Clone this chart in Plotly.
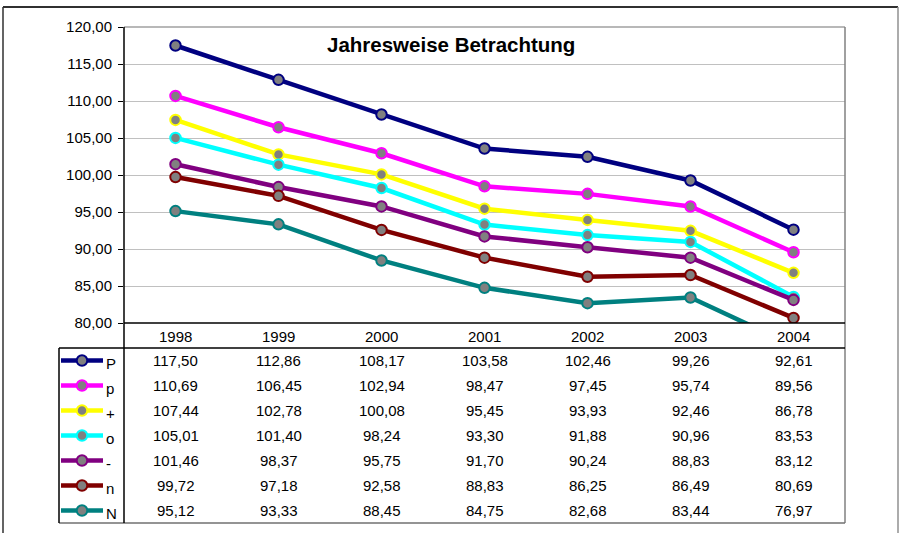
import plotly.graph_objects as go

years = ["1998", "1999", "2000", "2001", "2002", "2003", "2004"]
series_names = ["P", "p", "+", "o", "-", "n", "N"]
series_colors = ["#000080", "#FF00FF", "#FFFF00", "#00FFFF", "#800080", "#800000", "#008080"]
val_P = [117.50, 112.86, 108.17, 103.58, 102.46, 99.26, 92.61]
val_p = [110.69, 106.45, 102.94, 98.47, 97.45, 95.74, 89.56]
val_plus = [107.44, 102.78, 100.08, 95.45, 93.93, 92.46, 86.78]
val_o = [105.01, 101.40, 98.24, 93.30, 91.88, 90.96, 83.53]
val_minus = [101.46, 98.37, 95.75, 91.70, 90.24, 88.83, 83.12]
val_n = [99.72, 97.18, 92.58, 88.83, 86.25, 86.49, 80.69]
val_N = [95.12, 93.33, 88.45, 84.75, 82.68, 83.44, 76.97]
series_values = [val_P, val_p, val_plus, val_o, val_minus, val_n, val_N]
y_ticks = [80, 85, 90, 95, 100, 105, 110, 115, 120]
title_text = "Jahresweise Betrachtung"

W, H = 899, 533
def px(x):
    return x / W
def py(y):
    return 1 - y / H

FONT = "Liberation Sans, Arial, sans-serif"
FS = 15

fig = go.Figure()

# main chart lines
for name, col, vals in zip(series_names, series_colors, series_values):
    fig.add_trace(go.Scatter(
        x=list(range(len(years))), y=vals, mode="lines+markers", name=name,
        line=dict(color=col, width=4.5),
        marker=dict(size=10.5, color="#808080", line=dict(color=col, width=2)),
        xaxis="x", yaxis="y", showlegend=False, hoverinfo="skip"))

# legend samples in the table
for i, (name, col) in enumerate(zip(series_names, series_colors)):
    fig.add_trace(go.Scatter(x=[0, 1], y=[i + 0.5, i + 0.5], mode="lines",
                             line=dict(color=col, width=4.5), xaxis="x2", yaxis="y2",
                             showlegend=False, hoverinfo="skip"))
    fig.add_trace(go.Scatter(x=[0.5], y=[i + 0.5], mode="markers",
                             marker=dict(size=10.5, color="#808080", line=dict(color=col, width=2)),
                             xaxis="x2", yaxis="y2", showlegend=False, hoverinfo="skip"))

annotations = []
annotations.append(dict(text="<b>" + title_text + "</b>", x=px(451), y=py(44), xref="paper", yref="paper",
                        showarrow=False, font=dict(family=FONT, size=20.5, color="#000000"),
                        xanchor="center", yanchor="middle"))
for j, yr in enumerate(years):
    annotations.append(dict(text=yr, x=j, y=py(336), xref="x", yref="paper", showarrow=False,
                            font=dict(family=FONT, size=FS, color="#000000"),
                            xanchor="center", yanchor="middle"))
for i, (name, vals) in enumerate(zip(series_names, series_values)):
    annotations.append(dict(text=name, x=px(104), y=i + 0.5, xref="paper", yref="y2", yshift=-3,
                            showarrow=False, font=dict(family=FONT, size=FS, color="#000000"),
                            xanchor="left", yanchor="middle"))
    for j, v in enumerate(vals):
        annotations.append(dict(text=f"{v:.2f}".replace(".", ","), x=j, y=i + 0.5, xref="x", yref="y2",
                                showarrow=False, font=dict(family=FONT, size=FS, color="#000000"),
                                xanchor="center", yanchor="middle"))

def line(x0, y0, x1, y1, color, width=1):
    return dict(type="line", xref="paper", yref="paper", x0=px(x0), y0=py(y0), x1=px(x1), y1=py(y1),
                line=dict(color=color, width=width), layer="above")

shapes = [
    # outer border
    line(3, 7, 898, 7, "#303030", 2),
    line(3, 7, 3, 540, "#303030", 1.5),
    line(898, 7, 898, 540, "#909090", 1.5),
    # plot area border
    line(124, 27, 845, 27, "#a0a0a0", 1.5),
    line(845, 27, 845, 523, "#808080", 1.5),
    # table
    line(124, 323, 845, 323, "#000000", 1.5),
    line(59, 348, 845, 348, "#000000", 1.5),
    line(59, 523, 845, 523, "#707070", 1.5),
    line(59, 348, 59, 523, "#000000", 1.5),
    line(124, 27, 124, 523, "#000000", 1.5),
]

fig.update_layout(
    template="none",
    width=W, height=H, margin=dict(l=0, r=0, t=0, b=0, pad=0, autoexpand=False),
    paper_bgcolor="#ffffff", plot_bgcolor="#ffffff",
    separators=",.", showlegend=False,
    font=dict(family=FONT, size=FS, color="#000000"),
    xaxis=dict(domain=[px(124), px(845)], range=[-0.5, 6.5], showgrid=False, zeroline=False,
               showticklabels=False, ticks="", showline=False, fixedrange=True, automargin=False),
    yaxis=dict(domain=[py(323), py(27)], range=[80, 120], tickvals=y_ticks, tickformat=".2f",
               showgrid=True, gridcolor="#c0c0c0", gridwidth=1, zeroline=False,
               ticks="outside", ticklen=5, tickcolor="#000000", showline=False,
               ticklabelstandoff=3,
               tickfont=dict(family=FONT, size=FS, color="#000000"), fixedrange=True, automargin=False),
    xaxis2=dict(domain=[px(61), px(103)], range=[0, 1], visible=False, anchor="y2", automargin=False),
    yaxis2=dict(domain=[py(523), py(348)], range=[7, 0], visible=False, anchor="x2", automargin=False),
    annotations=annotations, shapes=shapes,
)

post = (
    "document.documentElement.style.margin='0';"
    "document.body.style.margin='0';"
    "document.body.style.overflow='hidden';"
)
fig.write_html("out.html", config={"displayModeBar": False}, post_script=post)
